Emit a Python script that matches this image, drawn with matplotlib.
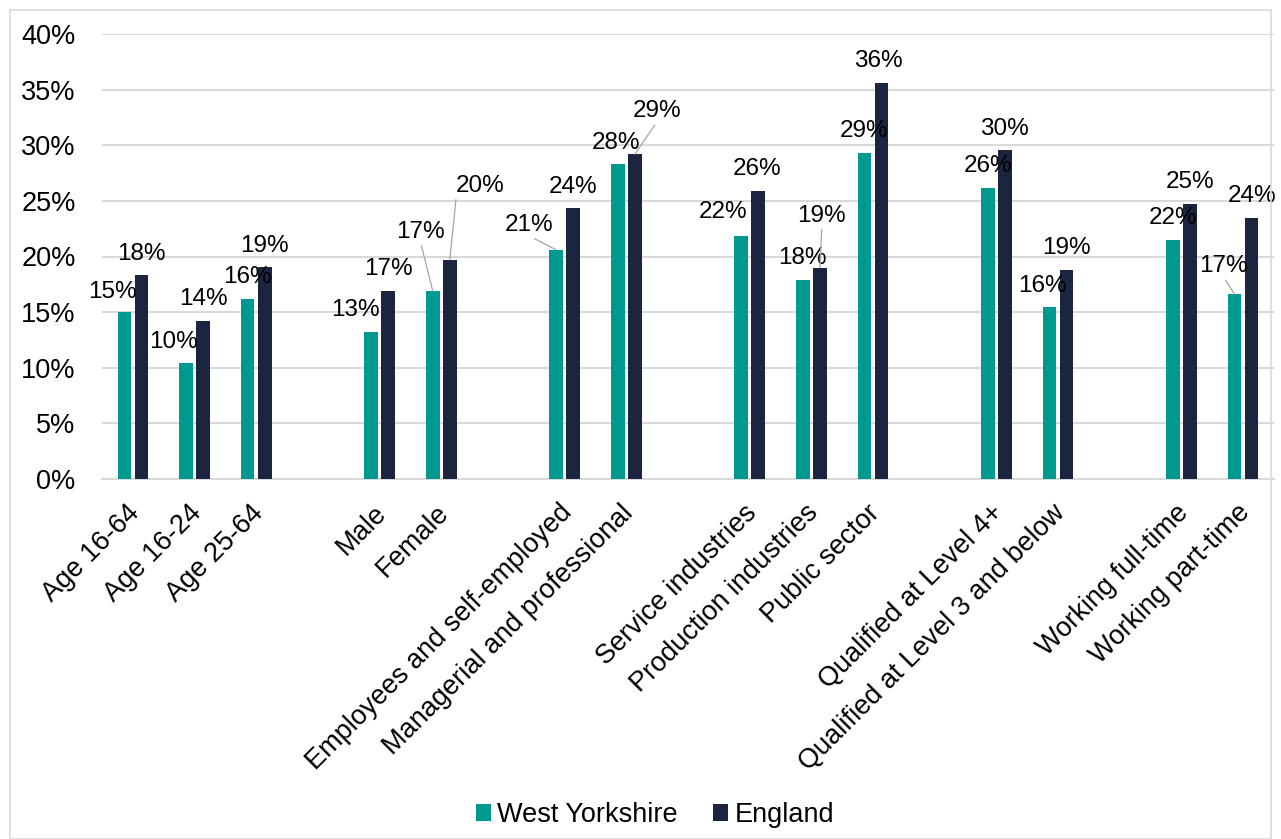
import numpy as np
import matplotlib.pyplot as plt
import matplotlib.transforms as mtransforms
from matplotlib.patches import Rectangle
from matplotlib.ticker import PercentFormatter

plt.rcParams['font.family'] = ['Liberation Sans', 'DejaVu Sans']

# categories, None marks the blank gap between groups
categories = ['Age 16-64', 'Age 16-24', 'Age 25-64', None,
              'Male', 'Female', None,
              'Employees and self-employed', 'Managerial and professional', None,
              'Service industries', 'Production industries', 'Public sector', None,
              'Qualified at Level 4+', 'Qualified at Level 3 and below', None,
              'Working full-time', 'Working part-time']

west_yorkshire = [15.0, 10.4, 16.2, 13.2, 16.9, 20.6, 28.3, 21.8, 17.9, 29.3, 26.2, 15.5, 21.5, 16.6]
england = [18.3, 14.2, 19.1, 16.9, 19.7, 24.4, 29.2, 25.9, 19.0, 35.6, 29.6, 18.8, 24.7, 23.5]

# label offsets in pixels (dx, dy) from bar top; last item = leader line anchor (relpos) or None
wy_offsets = [(-12, 20, None), (-13, 21, None), (0, 22, None), (-16, 22, None), (-12, 59, (0.5, 0)),
              (-27, 25, (0.5, 0)), (-2, 21, None), (-18, 24, None), (0, 22, None), (0, 22, None),
              (0, 22, None), (-7, 21, None), (0, 22, None), (-11, 28, (0.5, 0))]
en_offsets = [(0, 21, None), (0, 22, None), (0, 21, None), (0, 22, None), (30, 74, (0.02, 0.05)),
              (0, 21, None), (22, 43, (0.5, 0)), (-1, 22, None), (2, 52, (0.5, 0)), (-3, 22, None),
              (0, 21, None), (0, 22, None), (0, 22, None), (0, 22, None)]

teal = '#00998F'
navy = '#1B2540'
grid_col = '#D9D9D9'

pos = np.array([i for i, c in enumerate(categories) if c is not None])
labels = [c for c in categories if c is not None]

fig = plt.figure(figsize=(12.81, 8.39), dpi=100)
ax = fig.add_axes([102 / 1281, 1 - 479 / 839, (1274 - 102) / 1281, (479 - 34) / 839])

w = 0.22
off = 0.138
b1 = ax.bar(pos - off, np.array(west_yorkshire) / 100, w, color=teal, label='West Yorkshire', zorder=3)
b2 = ax.bar(pos + off, np.array(england) / 100, w, color=navy, label='England', zorder=3)

def add_labels(bars, vals, offsets):
    for bar, v, (dx, dy, rel) in zip(bars, vals, offsets):
        x = bar.get_x() + bar.get_width() / 2
        y = bar.get_height()
        kw = {}
        if rel is not None:
            kw['arrowprops'] = dict(arrowstyle='-', color='#A6A6A6', lw=0.9,
                                    shrinkA=0, shrinkB=0, relpos=rel)
        ax.annotate(f'{round(v):.0f}%', xy=(x, y), xytext=(dx, dy),
                    textcoords='offset pixels', ha='center', va='center',
                    fontsize=17.5, color='black', zorder=5, **kw)

add_labels(b1, west_yorkshire, wy_offsets)
add_labels(b2, england, en_offsets)

ax.set_xlim(-0.5, len(categories) - 0.5)
ax.set_ylim(0, 0.4)
ax.set_yticks(np.arange(0, 0.41, 0.05))
ax.yaxis.set_major_formatter(PercentFormatter(1.0, decimals=0))
ax.grid(axis='y', color=grid_col, lw=1.5, zorder=0)
ax.set_axisbelow(True)
for s in ['top', 'right', 'left']:
    ax.spines[s].set_visible(False)
ax.spines['bottom'].set_color(grid_col)
ax.spines['bottom'].set_linewidth(1.5)
ax.tick_params(axis='both', length=0, labelsize=19.5)
ax.tick_params(axis='y', pad=19)

ax.set_xticks(pos)
ax.set_xticklabels(labels, rotation=45, ha='right', va='top', rotation_mode='anchor')
ax.tick_params(axis='x', pad=12)
shift = mtransforms.ScaledTranslation(-6 / 100, -4 / 100, fig.dpi_scale_trans)
for lab in ax.get_xticklabels():
    lab.set_transform(lab.get_transform() + shift)

leg = fig.legend(handles=[b1, b2], loc='center', bbox_to_anchor=(655 / 1281, 1 - 815 / 839),
                 ncol=2, frameon=False, fontsize=19.5, handlelength=0.55, handleheight=0.55,
                 handletextpad=0.25, columnspacing=1.3)

fig.patches.append(Rectangle((10 / 1281, 0), 1 - 20 / 1281, 1 - 10 / 839, transform=fig.transFigure,
                             fill=False, edgecolor='#D9D9D9', lw=1.2))

fig.savefig('out.png', dpi=100)
